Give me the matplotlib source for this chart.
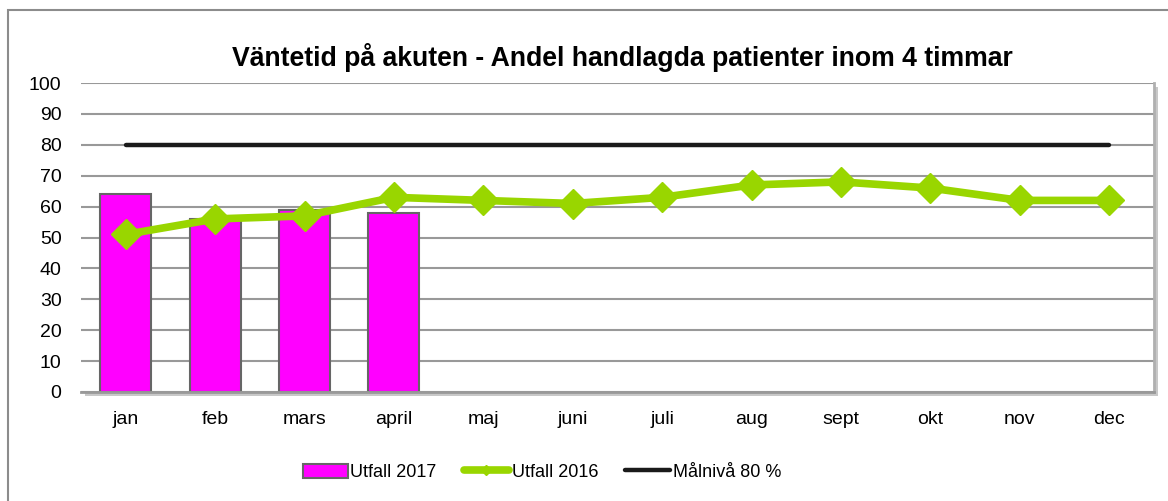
import numpy as np
import matplotlib.pyplot as plt
from matplotlib.patches import Rectangle

plt.rcParams['font.family'] = ['Liberation Sans', 'DejaVu Sans']

months = ['jan', 'feb', 'mars', 'april', 'maj', 'juni', 'juli', 'aug', 'sept', 'okt', 'nov', 'dec']
utfall_2017 = [64, 56, 59, 58]
utfall_2016 = [51, 56, 57, 63, 62, 61, 63, 67, 68, 66, 62, 62]
malniva = [80] * 12

fig = plt.figure(figsize=(11.68, 5.01), dpi=100)
# outer chart border (runs off the right and bottom edge)
fig.patches.append(Rectangle((8 / 1168, -10 / 501), 1170 / 1168, 501 / 501, transform=fig.transFigure,
                             fill=False, edgecolor='#8c8c8c', linewidth=1.5))
# plot area shadow
fig.patches.append(Rectangle(((81 + 4) / 1168, (109 - 4) / 501), 1073 / 1168, 309 / 501,
                             transform=fig.transFigure, facecolor='#c8c8c8', edgecolor='none',
                             zorder=-1))
ax = fig.add_axes([81 / 1168, 109 / 501, 1073 / 1168, 309 / 501])
ax.set_zorder(1)

x = np.arange(len(months))
ax.bar(x[:len(utfall_2017)], utfall_2017, width=0.57, color='#ff00ff', edgecolor='#666666',
       linewidth=1.5, label='Utfall 2017', zorder=2)
ax.plot(x, utfall_2016, color='#99d600', linewidth=5.5, marker='D', markersize=15,
        label='Utfall 2016', zorder=3)
ax.plot(x, malniva, color='#1a1a1a', linewidth=3.2, solid_capstyle='round',
        label='Målnivå 80 %', zorder=2)

ax.set_xlim(-0.5, 11.5)
ax.set_ylim(0, 100)
ax.set_yticks(range(0, 101, 10))
ax.set_xticks(x)
ax.set_xticklabels(months)
ax.tick_params(axis='both', length=0, labelsize=14)
ax.tick_params(axis='x', pad=14)
ax.tick_params(axis='y', pad=14)
ax.grid(axis='y', color='#999999', linewidth=1.5, zorder=0)
ax.set_axisbelow(True)
for s in ['top', 'left']:
    ax.spines[s].set_visible(False)
ax.spines['right'].set_color('#b0b0b0')
ax.spines['right'].set_linewidth(2)
ax.spines['bottom'].set_color('#999999')
ax.spines['bottom'].set_linewidth(2)

fig.text(0.533, 0.886, 'Väntetid på akuten - Andel handlagda patienter inom 4 timmar',
         ha='center', va='center', fontsize=19.2, fontweight='bold')

# legend in the reference order, with small line markers
handles, labels = ax.get_legend_handles_labels()
order = [labels.index(l) for l in ['Utfall 2017', 'Utfall 2016', 'Målnivå 80 %']]
leg = fig.legend([handles[i] for i in order], [labels[i] for i in order],
                 loc='center', bbox_to_anchor=(0.464, 0.057), ncol=3, frameon=False,
                 fontsize=13, handlelength=2.5, handleheight=0.8, handletextpad=0.15,
                 columnspacing=1.5, markerscale=0.35)
for h in leg.legend_handles[1:]:
    h.set_solid_capstyle('round')

fig.savefig('out.png', dpi=100)
